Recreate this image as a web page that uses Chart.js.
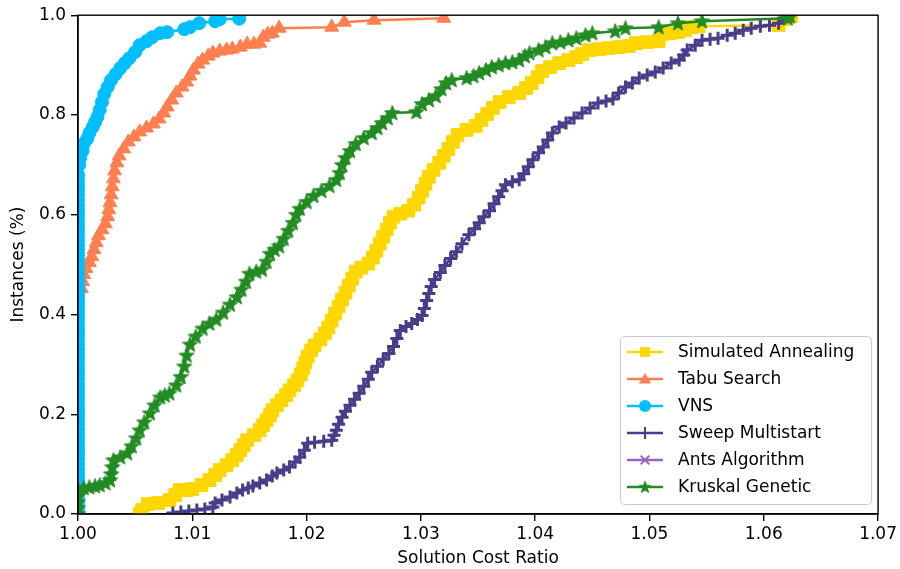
<!DOCTYPE html>
<html>
<head>
<meta charset="utf-8">
<script src="https://cdn.jsdelivr.net/npm/chart.js@4.4.1/dist/chart.umd.min.js"></script>
<style>
html, body { margin:0; padding:0; background:#fff; }
#wrap { width:900px; height:569px; position:relative; }
</style>
</head>
<body>
<div id="wrap"><canvas id="myChart"></canvas></div>
<script>
// tick values
const xTickValues = [1.00, 1.01, 1.02, 1.03, 1.04, 1.05, 1.06, 1.07];
const yTickValues = [0.0, 0.2, 0.4, 0.6, 0.8, 1.0];

const seriesNames = ['Simulated Annealing', 'Tabu Search', 'VNS', 'Sweep Multistart', 'Ants Algorithm', 'Kruskal Genetic'];

// Simulated Annealing
const saX = [1.0054,1.0056,1.0061,1.0070,1.0080,1.0085,1.0089,1.0095,1.0100,1.0108,1.0115,1.0120,1.0124,1.0130,1.0135,1.0139,1.0142,1.0145,1.0148,1.0154,1.0159,1.0162,1.0165,1.0168,1.0170,1.0174,1.0178,1.0182,1.0185,1.0189,1.0192,1.0195,1.0197,1.0199,1.0201,1.0204,1.0207,1.0212,1.0216,1.0219,1.0222,1.0225,1.0228,1.0231,1.0234,1.0237,1.0240,1.0243,1.0248,1.0254,1.0258,1.0261,1.0264,1.0267,1.0270,1.0273,1.0276,1.0282,1.0289,1.0294,1.0298,1.0301,1.0304,1.0307,1.0311,1.0316,1.0320,1.0324,1.0328,1.0332,1.0340,1.0348,1.0353,1.0358,1.0363,1.0369,1.0377,1.0386,1.0392,1.0397,1.0402,1.0406,1.0413,1.0421,1.0429,1.0436,1.0441,1.0447,1.0456,1.0464,1.0473,1.0482,1.0488,1.0498,1.0508,1.0511,1.0518,1.0525,1.0531,1.0537,1.0543,1.0613,1.0619,1.0624];
const saY = [0.000,0.008,0.020,0.022,0.028,0.038,0.048,0.048,0.050,0.058,0.068,0.078,0.088,0.098,0.108,0.118,0.128,0.138,0.148,0.158,0.168,0.178,0.188,0.198,0.208,0.218,0.228,0.238,0.248,0.258,0.268,0.280,0.292,0.304,0.316,0.328,0.338,0.350,0.362,0.374,0.388,0.402,0.416,0.430,0.444,0.458,0.472,0.486,0.494,0.502,0.514,0.528,0.542,0.556,0.570,0.584,0.596,0.602,0.608,0.620,0.634,0.648,0.662,0.676,0.690,0.704,0.718,0.732,0.746,0.760,0.770,0.778,0.790,0.802,0.814,0.826,0.836,0.844,0.854,0.864,0.876,0.888,0.896,0.904,0.910,0.916,0.922,0.930,0.932,0.934,0.936,0.938,0.944,0.946,0.948,0.962,0.964,0.966,0.970,0.976,0.978,0.980,0.992,0.998];

// Tabu Search
const tabuX = [1.0000,1.0003,1.0004,1.0005,1.0007,1.0010,1.0012,1.0014,1.0016,1.0018,1.0021,1.0024,1.0026,1.0027,1.0028,1.0029,1.0030,1.0031,1.0032,1.0034,1.0036,1.0040,1.0044,1.0049,1.0054,1.0060,1.0066,1.0071,1.0075,1.0078,1.0082,1.0086,1.0091,1.0095,1.0098,1.0101,1.0105,1.0109,1.0114,1.0118,1.0124,1.0130,1.0135,1.0142,1.0148,1.0154,1.0159,1.0162,1.0166,1.0170,1.0176,1.0222,1.0233,1.0259,1.0320];
const tabuY = [0.440,0.452,0.466,0.480,0.492,0.504,0.516,0.530,0.544,0.558,0.570,0.582,0.596,0.610,0.624,0.640,0.656,0.672,0.688,0.704,0.718,0.732,0.746,0.756,0.766,0.774,0.782,0.792,0.804,0.816,0.830,0.844,0.856,0.866,0.878,0.890,0.902,0.910,0.918,0.924,0.928,0.930,0.932,0.936,0.942,0.942,0.944,0.956,0.962,0.964,0.974,0.976,0.986,0.990,0.994];

// VNS
const vnsX = [1.0000,1.0000,1.0000,1.0000,1.0000,1.0000,1.0000,1.0000,1.0000,1.0000,1.0000,1.0000,1.0000,1.0000,1.0000,1.0000,1.0000,1.0000,1.0000,1.0000,1.0000,1.0000,1.0000,1.0000,1.0000,1.0000,1.0000,1.0000,1.0000,1.0000,1.0000,1.0000,1.0000,1.0000,1.0000,1.0000,1.0000,1.0000,1.0000,1.0000,1.0000,1.0000,1.0000,1.0000,1.0000,1.0000,1.0000,1.0000,1.0000,1.0000,1.0000,1.0000,1.0000,1.0000,1.0000,1.0000,1.0000,1.0000,1.0000,1.0000,1.0000,1.0000,1.0000,1.0000,1.0000,1.0000,1.0000,1.0000,1.0000,1.0001,1.0002,1.0004,1.0005,1.0008,1.0010,1.0013,1.0015,1.0017,1.0019,1.0021,1.0023,1.0026,1.0029,1.0033,1.0037,1.0041,1.0045,1.0050,1.0054,1.0060,1.0065,1.0072,1.0078,1.0093,1.0098,1.0106,1.0120,1.0124,1.0141];
const vnsY = [0.00,0.01,0.02,0.03,0.04,0.05,0.06,0.07,0.08,0.09,0.10,0.11,0.12,0.13,0.14,0.15,0.16,0.17,0.18,0.19,0.20,0.21,0.22,0.23,0.24,0.25,0.26,0.27,0.28,0.29,0.30,0.31,0.32,0.33,0.34,0.35,0.36,0.37,0.38,0.39,0.40,0.41,0.42,0.43,0.44,0.45,0.46,0.47,0.48,0.49,0.50,0.51,0.52,0.53,0.54,0.55,0.56,0.57,0.58,0.59,0.60,0.61,0.62,0.63,0.64,0.65,0.66,0.67,0.68,0.700,0.714,0.728,0.742,0.752,0.764,0.776,0.786,0.796,0.810,0.826,0.842,0.856,0.870,0.882,0.894,0.904,0.914,0.926,0.940,0.948,0.956,0.964,0.966,0.972,0.976,0.984,0.988,0.992,0.993];

// Sweep Multistart
const sweepX = [1.0083,1.0090,1.0097,1.0104,1.0111,1.0118,1.0120,1.0126,1.0133,1.0139,1.0144,1.0149,1.0153,1.0159,1.0165,1.0170,1.0174,1.0180,1.0185,1.0190,1.0194,1.0198,1.0201,1.0207,1.0215,1.0222,1.0224,1.0226,1.0228,1.0231,1.0234,1.0238,1.0242,1.0246,1.0250,1.0254,1.0257,1.0262,1.0267,1.0272,1.0276,1.0279,1.0282,1.0287,1.0292,1.0297,1.0301,1.0303,1.0305,1.0307,1.0309,1.0312,1.0317,1.0321,1.0326,1.0331,1.0336,1.0342,1.0347,1.0351,1.0355,1.0360,1.0364,1.0368,1.0371,1.0374,1.0380,1.0386,1.0390,1.0394,1.0398,1.0403,1.0407,1.0411,1.0415,1.0421,1.0427,1.0434,1.0441,1.0448,1.0455,1.0462,1.0468,1.0473,1.0479,1.0485,1.0491,1.0498,1.0505,1.0512,1.0519,1.0526,1.0530,1.0533,1.0540,1.0546,1.0553,1.0560,1.0568,1.0575,1.0582,1.0589,1.0597,1.0605,1.0613,1.0618,1.0621];
const sweepY = [0.002,0.004,0.006,0.008,0.010,0.014,0.022,0.028,0.034,0.042,0.048,0.052,0.056,0.062,0.068,0.076,0.082,0.088,0.094,0.104,0.114,0.128,0.142,0.144,0.146,0.148,0.158,0.168,0.180,0.194,0.206,0.218,0.230,0.242,0.256,0.270,0.284,0.296,0.310,0.322,0.336,0.352,0.368,0.376,0.382,0.390,0.398,0.412,0.428,0.442,0.456,0.470,0.484,0.498,0.512,0.526,0.542,0.560,0.572,0.584,0.596,0.608,0.622,0.636,0.648,0.660,0.666,0.670,0.682,0.696,0.710,0.724,0.736,0.750,0.764,0.776,0.784,0.794,0.804,0.814,0.824,0.828,0.832,0.844,0.856,0.864,0.874,0.880,0.886,0.894,0.904,0.910,0.920,0.930,0.940,0.950,0.952,0.954,0.960,0.964,0.970,0.974,0.978,0.980,0.984,0.994,0.998];

// Ants Algorithm (no visible marks)
const antsX = [];
const antsY = [];

// Kruskal Genetic
const kruskalX = [1.0000,1.0000,1.0000,1.0000,1.0000,1.0005,1.0010,1.0015,1.0019,1.0024,1.0028,1.0029,1.0030,1.0031,1.0037,1.0043,1.0047,1.0051,1.0054,1.0058,1.0063,1.0067,1.0072,1.0076,1.0080,1.0086,1.0090,1.0093,1.0095,1.0098,1.0103,1.0109,1.0115,1.0121,1.0127,1.0133,1.0139,1.0143,1.0147,1.0150,1.0156,1.0161,1.0165,1.0168,1.0172,1.0176,1.0180,1.0184,1.0188,1.0191,1.0194,1.0200,1.0206,1.0213,1.0220,1.0226,1.0229,1.0231,1.0234,1.0238,1.0243,1.0250,1.0257,1.0262,1.0266,1.0271,1.0275,1.0296,1.0301,1.0307,1.0313,1.0318,1.0322,1.0327,1.0340,1.0346,1.0351,1.0357,1.0362,1.0368,1.0374,1.0380,1.0386,1.0391,1.0395,1.0403,1.0409,1.0415,1.0422,1.0429,1.0436,1.0444,1.0450,1.0470,1.0479,1.0508,1.0525,1.0546,1.0621,1.0623];
const kruskalY = [0.000,0.012,0.024,0.036,0.048,0.052,0.054,0.056,0.058,0.062,0.068,0.080,0.094,0.108,0.114,0.122,0.136,0.152,0.168,0.184,0.202,0.218,0.234,0.238,0.242,0.258,0.275,0.296,0.318,0.340,0.356,0.372,0.382,0.390,0.404,0.420,0.435,0.450,0.466,0.482,0.486,0.490,0.506,0.522,0.530,0.537,0.552,0.568,0.584,0.600,0.612,0.626,0.638,0.648,0.658,0.670,0.684,0.700,0.714,0.728,0.742,0.754,0.764,0.774,0.784,0.794,0.804,0.806,0.822,0.830,0.838,0.852,0.864,0.870,0.874,0.878,0.884,0.890,0.896,0.900,0.904,0.906,0.910,0.918,0.924,0.930,0.936,0.944,0.946,0.950,0.954,0.960,0.964,0.968,0.974,0.976,0.984,0.988,0.994,0.998];

const colors = ['#FFD700', '#FF7F50', '#00BFFF', '#483D8B', '#9467BD', '#228B22'];

const toPoints = (xs, ys) => xs.slice(0, Math.min(xs.length, ys.length)).map((x, i) => ({x: x, y: ys[i]}));

// filled star marker (matplotlib '*')
const starImg = document.createElement('canvas');
starImg.width = 18; starImg.height = 18;
(function () {
    const c = starImg.getContext('2d');
    c.beginPath();
    for (let i = 0; i < 10; i++) {
        const r = i % 2 === 0 ? 8 : 3.4;
        const a = -Math.PI / 2 + i * Math.PI / 5;
        c.lineTo(9 + r * Math.cos(a), 9.5 + r * Math.sin(a));
    }
    c.closePath();
    c.fillStyle = colors[5];
    c.fill();
    c.strokeStyle = colors[5];
    c.lineWidth = 1;
    c.stroke();
})();

const markers = [
    {style: 'rect', r: 9},
    {style: 'triangle', r: 8},
    {style: 'circle', r: 6.5},
    {style: 'cross', r: 6.5},
    {style: 'crossRot', r: 6.5},
    {style: starImg, r: 8}
];

const allX = [saX, tabuX, vnsX, sweepX, antsX, kruskalX];
const allY = [saY, tabuY, vnsY, sweepY, antsY, kruskalY];

const datasets = seriesNames.map((name, i) => ({
    label: name,
    data: toPoints(allX[i], allY[i]),
    borderColor: colors[i],
    backgroundColor: colors[i],
    borderWidth: 2.5,
    pointStyle: markers[i].style,
    pointRadius: markers[i].r,
    pointHoverRadius: markers[i].r,
    pointBackgroundColor: colors[i],
    pointBorderColor: colors[i],
    pointBorderWidth: (i === 3 || i === 4) ? 3 : 1,
    tension: 0,
    fill: false,
    clip: 0,
    order: 6 - i
}));

function drawMarker(ctx, i, x, y) {
    const m = markers[i];
    ctx.fillStyle = colors[i];
    ctx.strokeStyle = colors[i];
    ctx.lineWidth = 2;
    ctx.beginPath();
    if (m.style === 'rect') {
        const s = 7 * Math.SQRT1_2;
        ctx.rect(x - s, y - s, 2 * s, 2 * s);
        ctx.fill();
    } else if (m.style === 'triangle') {
        for (let k = 0; k < 3; k++) {
            const a = k * 2 * Math.PI / 3;
            ctx.lineTo(x + Math.sin(a) * 7, y + 1 - Math.cos(a) * 7);
        }
        ctx.closePath();
        ctx.fill();
    } else if (m.style === 'circle') {
        ctx.arc(x, y, 6, 0, Math.PI * 2);
        ctx.fill();
    } else if (m.style === 'cross') {
        ctx.moveTo(x - 6, y); ctx.lineTo(x + 6, y);
        ctx.moveTo(x, y - 6); ctx.lineTo(x, y + 6);
        ctx.stroke();
    } else if (m.style === 'crossRot') {
        const d = 6 * Math.SQRT1_2;
        ctx.moveTo(x - d, y - d); ctx.lineTo(x + d, y + d);
        ctx.moveTo(x - d, y + d); ctx.lineTo(x + d, y - d);
        ctx.stroke();
    } else {
        ctx.drawImage(m.style, x - 7, y - 7, 14, 14);
    }
}

// frame round the plot and the legend box in the lower right
const framePlugin = {
    id: 'framePlugin',
    afterDraw(chart) {
        const ctx = chart.ctx;
        const a = chart.chartArea;
        ctx.save();
        ctx.strokeStyle = '#000';
        ctx.lineWidth = 1.4;
        ctx.strokeRect(a.left, a.top, a.right - a.left, a.bottom - a.top);

        // legend
        const bx = 620.5, by = 336.5, bw = 251, bh = 168, rr = 4;
        ctx.beginPath();
        ctx.moveTo(bx + rr, by);
        ctx.arcTo(bx + bw, by, bx + bw, by + bh, rr);
        ctx.arcTo(bx + bw, by + bh, bx, by + bh, rr);
        ctx.arcTo(bx, by + bh, bx, by, rr);
        ctx.arcTo(bx, by, bx + bw, by, rr);
        ctx.closePath();
        ctx.fillStyle = 'rgba(255,255,255,0.8)';
        ctx.fill();
        ctx.strokeStyle = '#cccccc';
        ctx.lineWidth = 1;
        ctx.stroke();

        ctx.font = '17px "DejaVu Sans"';
        ctx.textBaseline = 'middle';
        ctx.textAlign = 'left';
        seriesNames.forEach((name, i) => {
            const y = 352 + i * 27;
            ctx.beginPath();
            ctx.strokeStyle = colors[i];
            ctx.lineWidth = 2.5;
            ctx.moveTo(627, y);
            ctx.lineTo(663, y);
            ctx.stroke();
            drawMarker(ctx, i, 645, y);
            ctx.fillStyle = '#000';
            ctx.fillText(name, 678, y + 1);
        });
        ctx.restore();
    }
};

const tickFont = {family: 'DejaVu Sans', size: 17};

var ctx = document.getElementById('myChart').getContext('2d');
var chart = new Chart(ctx, {
    type: 'line',
    data: {datasets: datasets},
    options: {
        responsive: true,
        maintainAspectRatio: false,
        animation: false,
        devicePixelRatio: 1,
        layout: {padding: {top: 15, right: 20, left: 0, bottom: 0}},
        plugins: {
            legend: {display: false},
            tooltip: {enabled: false}
        },
        scales: {
            x: {
                type: 'linear',
                min: 1.0,
                max: 1.07,
                afterBuildTicks: s => { s.ticks = xTickValues.map(v => ({value: v})); },
                afterFit: s => { s.height = 55; },
                ticks: {
                    callback: v => Number(v).toFixed(2),
                    font: tickFont, color: '#000', padding: 3,
                    maxRotation: 0, autoSkip: false
                },
                grid: {drawOnChartArea: false, drawTicks: true, tickLength: 7, color: '#000', lineWidth: 1.4},
                border: {display: true, color: '#000', width: 1.4},
                title: {display: true, text: 'Solution Cost Ratio', font: tickFont, color: '#000', padding: {top: 4, bottom: 0}}
            },
            y: {
                type: 'linear',
                min: 0,
                max: 1,
                afterBuildTicks: s => { s.ticks = yTickValues.map(v => ({value: v})); },
                afterFit: s => { s.width = 78; },
                ticks: {
                    callback: v => Number(v).toFixed(1),
                    font: tickFont, color: '#000', padding: 5, autoSkip: false
                },
                grid: {drawOnChartArea: false, drawTicks: true, tickLength: 7, color: '#000', lineWidth: 1.4},
                border: {display: true, color: '#000', width: 1.4},
                title: {display: true, text: 'Instances (%)', font: tickFont, color: '#000', padding: {top: 8, bottom: 4}}
            }
        }
    },
    plugins: [framePlugin]
});
</script>
</body>
</html>
